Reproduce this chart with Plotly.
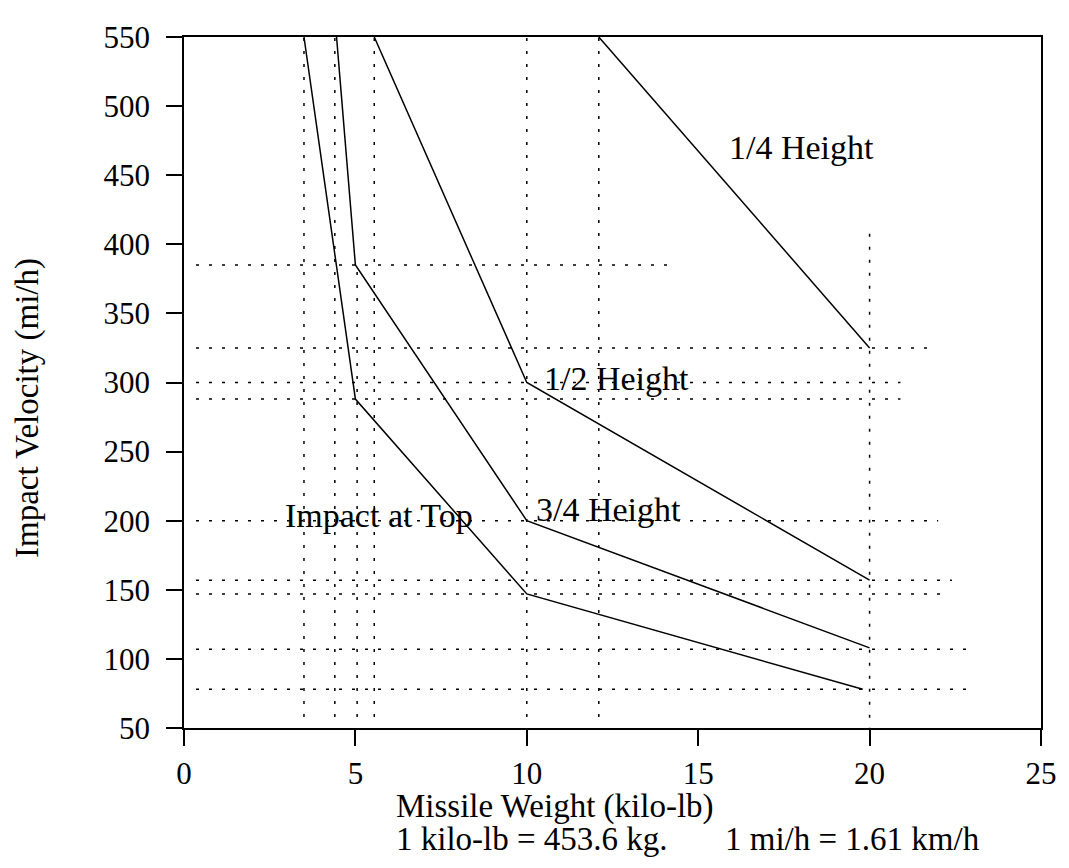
import plotly.graph_objects as go

# Curves: missile weight (kilo-lb) vs impact velocity (mi/h)
top_x = [3.5, 5.0, 10.0, 19.8]
top_y = [550, 288, 147, 78]
h34_x = [4.45, 5.0, 10.0, 20.0]
h34_y = [550, 385, 200, 108]
h12_x = [5.55, 10.0, 20.0]
h12_y = [550, 300, 157]
h14_x = [12.1, 20.0]
h14_y = [550, 325]

# Dotted reference lines
hline_vals = [385, 325, 300, 288, 200, 157, 147, 107, 78]
hline_start = [0.35, 0.35, 0.35, 0.35, 0.35, 0.35, 0.35, 0.35, 0.35]
hline_end = [14.3, 21.7, 20.9, 20.9, 22.0, 22.4, 22.2, 22.85, 22.9]
vline_vals = [3.5, 4.4, 5.05, 5.55, 10.0, 12.1, 20.0]
vline_start = [58, 58, 58, 58, 58, 58, 48]
vline_end = [550, 550, 385, 550, 550, 550, 410]

x_ticks = [0, 5, 10, 15, 20, 25]
y_ticks = [50, 100, 150, 200, 250, 300, 350, 400, 450, 500, 550]

labels = ["1/4 Height", "1/2 Height", "3/4 Height", "Impact at Top"]
label_x = [15.85, 10.45, 10.2, 8.5]
label_y = [470, 303, 208, 204]
label_anchor = ["left", "left", "left", "right"]

x_title = "Missile Weight (kilo-lb)"
x_note_1 = "1 kilo-lb = 453.6 kg."
x_note_2 = "1 mi/h = 1.61 km/h"
y_title = "Impact Velocity (mi/h)"

FONT = "Liberation Serif, Times New Roman, serif"
# page has an 8px body margin; figure is sized/offset so the frame lands where the reference has it
W, H = 1061, 860
L, R, T, B = 176, 19, 16, 140
pw, ph = W - L - R, H - T - B
OFF = 8  # body margin


def px_x(page_x):
    return (page_x - OFF - L) / pw


def shift_below(page_y):
    return -((page_y - OFF) - (H - B))


fig = go.Figure()

dot = dict(color="black", width=1.5, dash="3px,10px")
for v, a, b in zip(hline_vals, hline_start, hline_end):
    fig.add_trace(go.Scatter(x=[a, b], y=[v, v], mode="lines", line=dot,
                             hoverinfo="skip", showlegend=False))
for v, a, b in zip(vline_vals, vline_start, vline_end):
    fig.add_trace(go.Scatter(x=[v, v], y=[a, b], mode="lines", line=dot,
                             hoverinfo="skip", showlegend=False))

solid = dict(color="black", width=1.5)
for xs, ys in [(top_x, top_y), (h34_x, h34_y), (h12_x, h12_y), (h14_x, h14_y)]:
    fig.add_trace(go.Scatter(x=xs, y=ys, mode="lines", line=solid, showlegend=False))

for t, x, y, anc in zip(labels, label_x, label_y, label_anchor):
    fig.add_annotation(x=x, y=y, text=t, showarrow=False, xanchor=anc,
                       yanchor="middle", font=dict(family=FONT, size=34, color="black"))

fig.add_annotation(xref="paper", yref="paper", x=px_x(396), y=0, xanchor="left",
                   yanchor="middle", yshift=shift_below(806), text=x_title, showarrow=False,
                   font=dict(family=FONT, size=33, color="black"))
fig.add_annotation(xref="paper", yref="paper", x=px_x(396), y=0, xanchor="left",
                   yanchor="middle", yshift=shift_below(839), text=x_note_1, showarrow=False,
                   font=dict(family=FONT, size=33, color="black"))
fig.add_annotation(xref="paper", yref="paper", x=px_x(990), y=0, xanchor="right",
                   yanchor="middle", yshift=shift_below(839), text=x_note_2, showarrow=False,
                   font=dict(family=FONT, size=33, color="black"))
fig.add_annotation(xref="paper", yref="paper", x=0, y=((H - B) - (402 - OFF)) / ph,
                   xanchor="center", yanchor="middle", xshift=(27 - OFF) - L, text=y_title,
                   textangle=-90, showarrow=False, font=dict(family=FONT, size=33, color="black"))

fig.update_layout(
    width=W, height=H,
    margin=dict(l=L, r=R, t=T, b=B),
    paper_bgcolor="white", plot_bgcolor="white",
    font=dict(family=FONT, size=31, color="black"),
)
fig.update_xaxes(range=[0, 25], tickvals=x_ticks, showgrid=False, zeroline=False,
                 showline=True, linecolor="black", linewidth=1.8, mirror=True,
                 ticks="outside", ticklen=16, tickcolor="black", tickwidth=1.5,
                 ticklabelstandoff=1, ticklabeloverflow="allow",
                 tickfont=dict(family=FONT, size=31))
fig.update_yaxes(range=[50, 550], tickvals=y_ticks, showgrid=False, zeroline=False,
                 showline=True, linecolor="black", linewidth=1.8, mirror=True,
                 ticks="outside", ticklen=16, tickcolor="black", tickwidth=1.5,
                 ticklabelstandoff=10, ticklabeloverflow="allow",
                 tickfont=dict(family=FONT, size=31))

fig.write_html("out.html")
